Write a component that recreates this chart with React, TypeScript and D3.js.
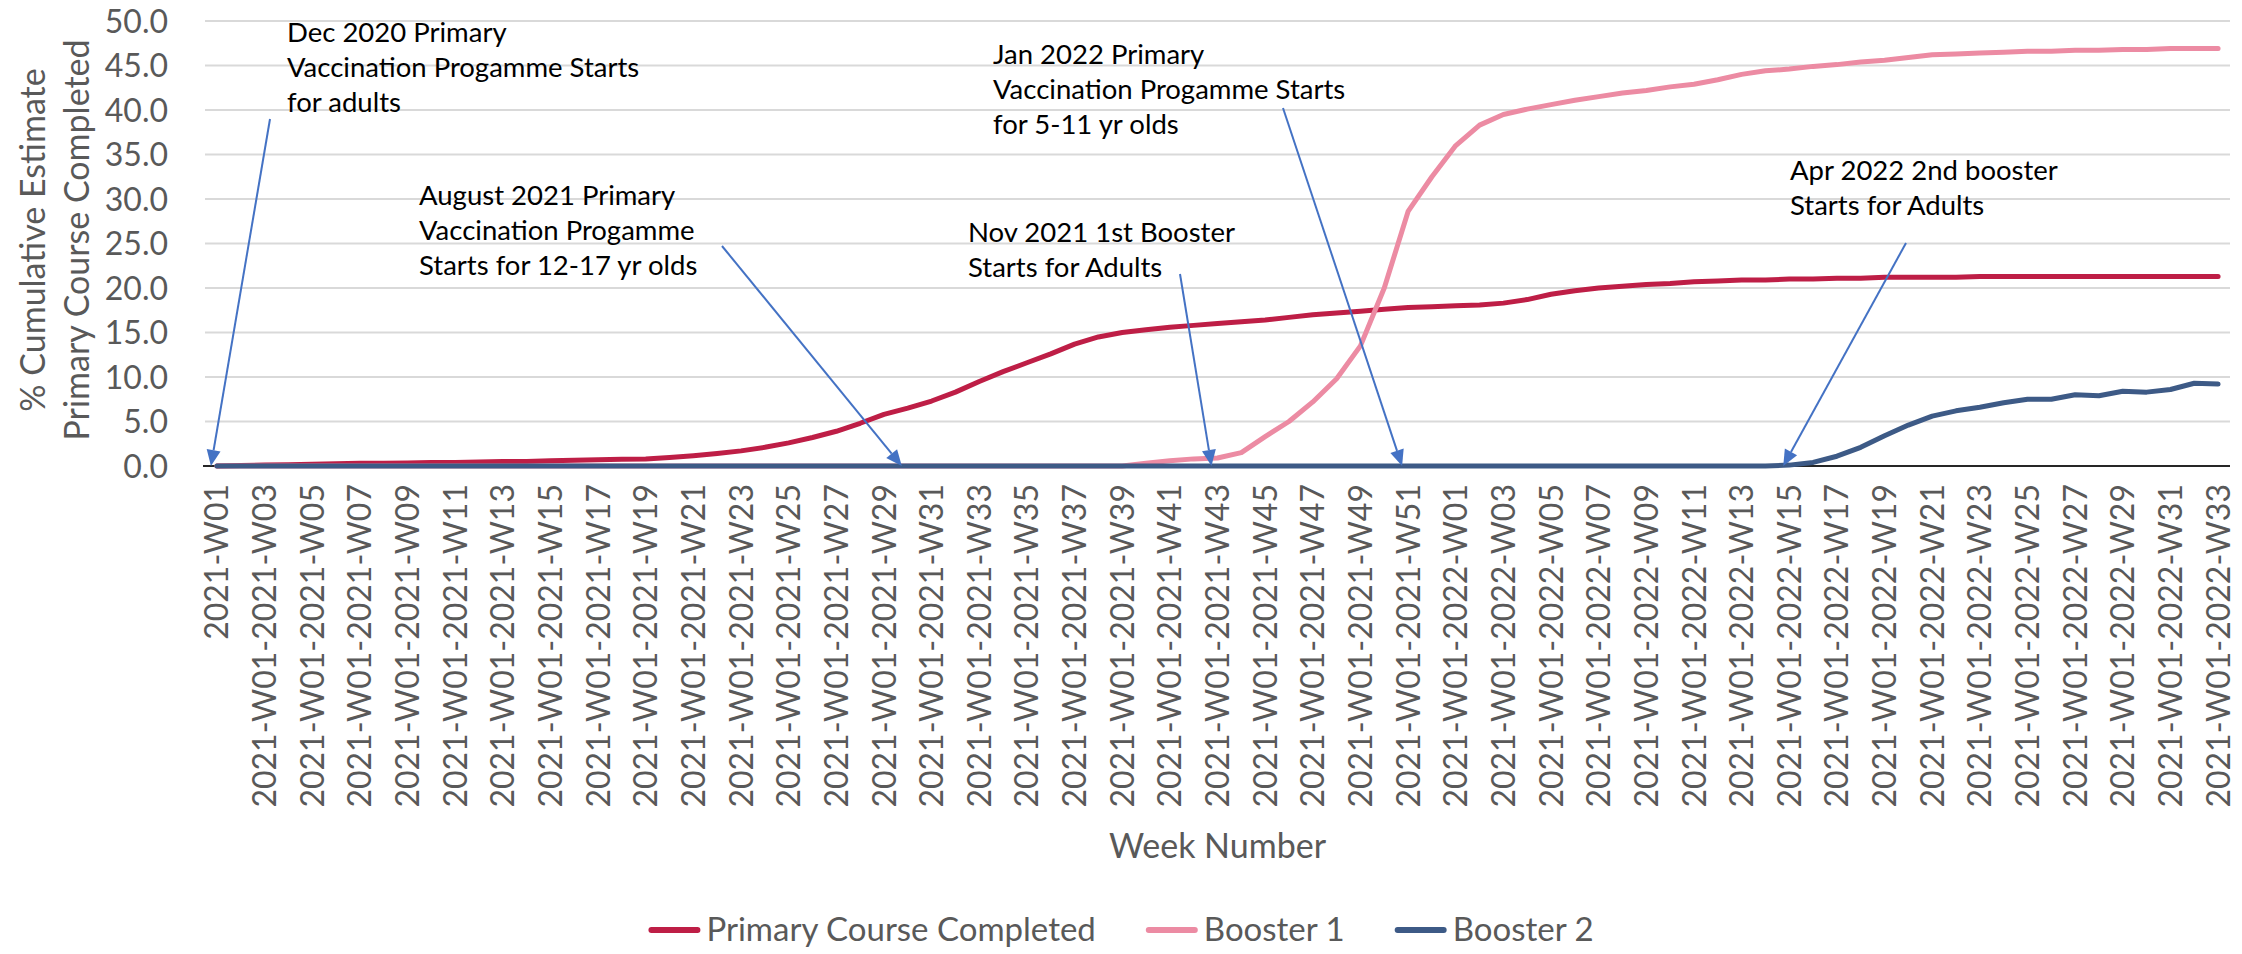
import React, { useEffect, useRef } from "react";
import * as d3 from "d3";

// ISO weeks shown on the category axis
const weeks2021 = d3.range(1, 53).map((w) => `2021-W${String(w).padStart(2, "0")}`);
const weeks2022 = d3.range(1, 34).map((w) => `2022-W${String(w).padStart(2, "0")}`);
const weeks = [...weeks2021, ...weeks2022];

// axis labels as they appear in the source workbook (every second week)
const tickLabel = (w: string, i: number) => (i === 0 ? w : `2021-W01-${w}`);

const yTicks = [0, 5, 10, 15, 20, 25, 30, 35, 40, 45, 50];

// % cumulative estimate, one value per week
const primaryCourse = [
	0.0, 0.05, 0.1, 0.15, 0.2, 0.25, 0.3, 0.3, 0.35, 0.4,
	0.4, 0.45, 0.5, 0.5, 0.6, 0.65, 0.7, 0.75, 0.8, 0.95,
	1.15, 1.4, 1.7, 2.1, 2.6, 3.2, 3.9, 4.8, 5.8, 6.5,
	7.3, 8.3, 9.5, 10.6, 11.6, 12.6, 13.7, 14.5, 15.0, 15.3,
	15.6, 15.8, 16.0, 16.2, 16.4, 16.7, 17.0, 17.2, 17.4, 17.6,
	17.8, 17.9,
	18.0, 18.1, 18.3, 18.7, 19.3, 19.7, 20.0, 20.2, 20.4, 20.5,
	20.7, 20.8, 20.9, 20.9, 21.0, 21.0, 21.1, 21.1, 21.2, 21.2,
	21.2, 21.2, 21.3, 21.3, 21.3, 21.3, 21.3, 21.3, 21.3, 21.3,
	21.3, 21.3, 21.3,
];

const booster1 = [
	0, 0, 0, 0, 0, 0, 0, 0, 0, 0,
	0, 0, 0, 0, 0, 0, 0, 0, 0, 0,
	0, 0, 0, 0, 0, 0, 0, 0, 0, 0,
	0, 0, 0, 0, 0, 0, 0, 0, 0, 0.3,
	0.6, 0.8, 0.9, 1.5, 3.3, 5.0, 7.2, 9.8, 13.5, 20.0,
	28.6, 32.5,
	36.0, 38.3, 39.5, 40.1, 40.6, 41.1, 41.5, 41.9, 42.2, 42.6,
	42.9, 43.4, 44.0, 44.4, 44.6, 44.9, 45.1, 45.4, 45.6, 45.9,
	46.2, 46.3, 46.4, 46.5, 46.6, 46.6, 46.7, 46.7, 46.8, 46.8,
	46.9, 46.9, 46.9,
];

const booster2 = [
	0, 0, 0, 0, 0, 0, 0, 0, 0, 0,
	0, 0, 0, 0, 0, 0, 0, 0, 0, 0,
	0, 0, 0, 0, 0, 0, 0, 0, 0, 0,
	0, 0, 0, 0, 0, 0, 0, 0, 0, 0,
	0, 0, 0, 0, 0, 0, 0, 0, 0, 0,
	0, 0,
	0, 0, 0, 0, 0, 0, 0, 0, 0, 0,
	0, 0, 0, 0, 0.1, 0.4, 1.1, 2.1, 3.4, 4.6,
	5.6, 6.2, 6.6, 7.1, 7.5, 7.5, 8.0, 7.9, 8.4, 8.3,
	8.6, 9.3, 9.2,
];

const seriesNames = ["Primary Course Completed", "Booster 1", "Booster 2"];
const seriesValues = [primaryCourse, booster1, booster2];

// callouts: text and the week the arrow points at
const annotationTexts = [
	["Dec 2020 Primary", "Vaccination Progamme Starts", "for adults"],
	["August 2021 Primary", "Vaccination Progamme", "Starts for 12-17 yr olds"],
	["Nov 2021 1st Booster", "Starts for Adults"],
	["Jan 2022 Primary", "Vaccination Progamme Starts", "for 5-11 yr olds"],
	["Apr 2022 2nd booster", "Starts for Adults"],
];
const annotationWeeks = ["2021-W01", "2021-W30", "2021-W43", "2021-W51", "2022-W15"];

const COLORS = ["#BE1E46", "#EC8BA3", "#3D5A86"];
const FONT = "Lato, 'Open Sans', sans-serif";
const TEXT_GREY = "#595959";

export default function App() {
	const svgRef = useRef<SVGSVGElement | null>(null);

	useEffect(() => {
		if (!svgRef.current) return;
		const width = 2242;
		const height = 954;
		const plot = { left: 205, right: 2230, top: 21, bottom: 466 };

		const svg = d3.select(svgRef.current);
		svg.selectAll("*").remove();
		svg.attr("viewBox", `0 0 ${width} ${height}`);

		const x = d3.scalePoint<string>().domain(weeks).range([plot.left, plot.right]).padding(0.5);
		const y = d3.scaleLinear().domain([0, 50]).range([plot.bottom, plot.top]);

		// gridlines
		svg
			.append("g")
			.selectAll("line")
			.data(yTicks.filter((t) => t > 0))
			.enter()
			.append("line")
			.attr("x1", plot.left)
			.attr("x2", plot.right)
			.attr("y1", (d) => y(d))
			.attr("y2", (d) => y(d))
			.attr("stroke", "#D9D9D9")
			.attr("stroke-width", 2);

		// y tick labels
		svg
			.append("g")
			.selectAll("text")
			.data(yTicks)
			.enter()
			.append("text")
			.attr("x", 168)
			.attr("y", (d) => y(d))
			.attr("dy", "0.36em")
			.attr("text-anchor", "end")
			.attr("font-family", FONT)
			.attr("font-size", 32)
			.attr("fill", TEXT_GREY)
			.text((d) => d3.format(".1f")(d));

		// y title (two lines)
		const yTitle = svg.append("g").attr("transform", "rotate(-90)");
		["% Cumulative Estimate", "Primary Course Completed"].forEach((t, i) => {
			yTitle
				.append("text")
				.attr("x", -240)
				.attr("y", 45 + i * 44)
				.attr("text-anchor", "middle")
				.attr("font-family", FONT)
				.attr("font-size", 34)
				.attr("fill", TEXT_GREY)
				.text(t);
		});

		// x tick labels, rotated
		svg
			.append("g")
			.selectAll("text")
			.data(weeks.filter((_, i) => i % 2 === 0))
			.enter()
			.append("text")
			.attr("transform", (d) => `translate(${x(d)},484) rotate(-90)`)
			.attr("dy", "0.36em")
			.attr("text-anchor", "end")
			.attr("font-family", FONT)
			.attr("font-size", 32)
			.attr("fill", TEXT_GREY)
			.text((d) => tickLabel(d, weeks.indexOf(d)));

		svg
			.append("text")
			.attr("x", (plot.left + plot.right) / 2)
			.attr("y", 858)
			.attr("text-anchor", "middle")
			.attr("font-family", FONT)
			.attr("font-size", 34)
			.attr("fill", TEXT_GREY)
			.text("Week Number");

		// baseline
		svg
			.append("line")
			.attr("x1", plot.left - 2)
			.attr("x2", plot.right)
			.attr("y1", y(0))
			.attr("y2", y(0))
			.attr("stroke", "#262626")
			.attr("stroke-width", 2);

		// series lines
		const line = d3
			.line<number>()
			.x((_, i) => x(weeks[i])!)
			.y((d) => y(d));

		seriesValues.forEach((vals, s) => {
			svg
				.append("path")
				.datum(vals)
				.attr("d", line)
				.attr("fill", "none")
				.attr("stroke", COLORS[s])
				.attr("stroke-width", 5)
				.attr("stroke-linejoin", "round")
				.attr("stroke-linecap", "round");
		});

		// callouts
		const layout = [
			{ tx: 287, ty: 42, from: [270, 119] },
			{ tx: 419, ty: 205, from: [722, 246] },
			{ tx: 968, ty: 242, from: [1180, 274] },
			{ tx: 993, ty: 64, from: [1283, 108] },
			{ tx: 1790, ty: 180, from: [1906, 243] },
		];
		const ARROW_DX = -6;
		const HEAD_LEN = 16;
		const HEAD_HALF = 7;

		annotationTexts.forEach((lines, a) => {
			const L = layout[a];
			const g = svg.append("g");
			lines.forEach((t, i) => {
				g.append("text")
					.attr("x", L.tx)
					.attr("y", L.ty + i * 35)
					.attr("font-family", FONT)
					.attr("font-size", 27.5)
					.attr("fill", "#000")
					.text(t);
			});
			const tipX = x(annotationWeeks[a])! + ARROW_DX;
			const tipY = y(0);
			const [fx, fy] = L.from;
			const dx = tipX - fx;
			const dy = tipY - fy;
			const len = Math.hypot(dx, dy);
			const ux = dx / len;
			const uy = dy / len;
			const bx = tipX - ux * HEAD_LEN;
			const by = tipY - uy * HEAD_LEN;
			g.append("line")
				.attr("x1", fx)
				.attr("y1", fy)
				.attr("x2", bx)
				.attr("y2", by)
				.attr("stroke", "#4472C4")
				.attr("stroke-width", 2);
			g.append("path")
				.attr(
					"d",
					`M${tipX},${tipY} L${bx - uy * HEAD_HALF},${by + ux * HEAD_HALF} L${bx + uy * HEAD_HALF},${by - ux * HEAD_HALF} Z`
				)
				.attr("fill", "#4472C4");
		});

		// legend, centred on the chart
		const legend = svg.append("g");
		const items = seriesNames.map((name, i) => {
			const item = legend.append("g");
			item.append("line")
				.attr("x1", 3)
				.attr("x2", 49)
				.attr("y1", 0)
				.attr("y2", 0)
				.attr("stroke", COLORS[i])
				.attr("stroke-width", 6)
				.attr("stroke-linecap", "round");
			const txt = item
				.append("text")
				.attr("x", 58)
				.attr("dy", "0.34em")
				.attr("font-family", FONT)
				.attr("font-size", 33)
				.attr("fill", TEXT_GREY)
				.text(name);
			const w = 58 + (txt.node() as SVGTextElement).getComputedTextLength();
			return { item, w };
		});
		const gap = 50;
		const total = d3.sum(items, (d) => d.w) + gap * (items.length - 1);
		let cx = width / 2 - total / 2;
		items.forEach(({ item, w }) => {
			item.attr("transform", `translate(${cx},930)`);
			cx += w + gap;
		});
	}, []);

	return (
		<div style={{ position: "absolute", left: 0, top: 0, width: 2242, height: 954, background: "#fff" }}>
			<svg ref={svgRef} width={2242} height={954} style={{ display: "block" }} />
		</div>
	);
}
